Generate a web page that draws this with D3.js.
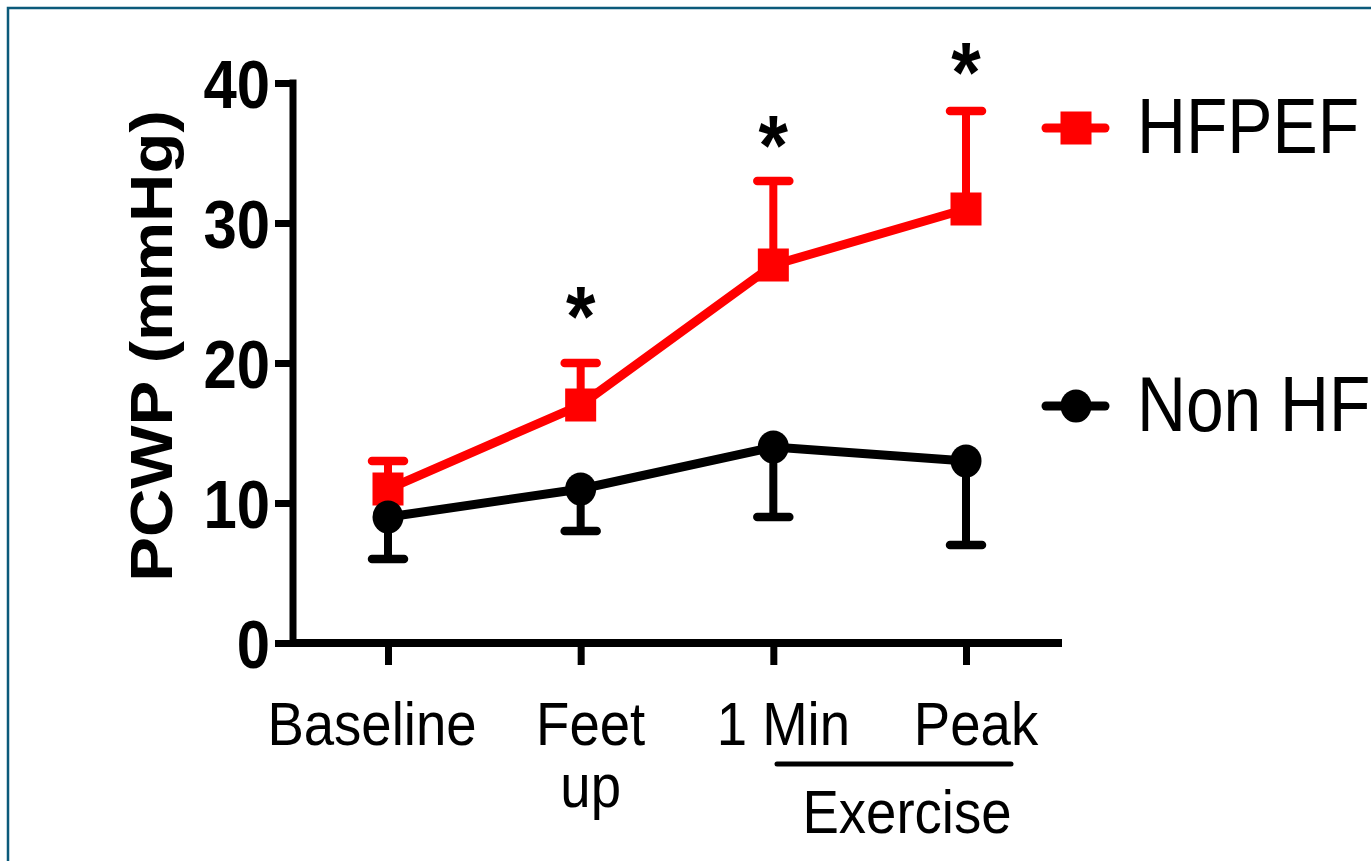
<!DOCTYPE html>
<html>
<head>
<meta charset="utf-8">
<script src="https://cdn.jsdelivr.net/npm/d3@7"></script>
<style>
  body { margin: 0; background: #fff; }
  text { font-family: "Liberation Sans", Arial, sans-serif; }
</style>
</head>
<body>
<svg id="svg" width="1371" height="861"></svg>
<script>
// Data
const categories = ["Baseline", "Feet up", "1 Min", "Peak"];
const categoryLines = [["Baseline"], ["Feet", "up"], ["1 Min"], ["Peak"]];
const hfpefMean = [11, 17, 27, 31];
const hfpefSD = [2, 3, 6, 7];
const nonHfMean = [9, 11, 14, 13];
const nonHfSD = [3, 3, 5, 6];
const sigLevel = [null, 24.1, 36.3, 41.5];
const yTicks = [0, 10, 20, 30, 40];
const legendNames = ["HFPEF", "Non HF"];

const svg = d3.select("#svg");
const SX = 0.88; // picture is stretched vertically, so text is narrowed

// frame
svg.append("rect").attr("x", 8).attr("y", 8).attr("width", 1400).attr("height", 900)
    .attr("fill", "none").attr("stroke", "#0b5a7a").attr("stroke-width", 2.5);

const x = d3.scalePoint().domain(categories).range([388, 966]);
const y = d3.scaleLinear().domain([0, 40]).range([643, 83]);

// Y axis
const yAxis = svg.append("g").attr("transform", "translate(293,0)")
    .call(d3.axisLeft(y).tickValues(yTicks).tickSize(18).tickSizeOuter(0));
yAxis.select(".domain").remove();
yAxis.selectAll(".tick line").attr("stroke", "#000").attr("stroke-width", 7);
yAxis.selectAll(".tick text")
    .attr("x", null).attr("dy", "0.36em")
    .attr("transform", `translate(-23,0) scale(${SX},1)`)
    .attr("font-size", 68).attr("font-weight", "bold").attr("fill", "#000")
    .style("font-family", "'Liberation Sans', Arial, sans-serif");
svg.append("line").attr("x1", 293).attr("x2", 293).attr("y1", y(40) - 3.5).attr("y2", y(0) + 4)
    .attr("stroke", "#000").attr("stroke-width", 7);

// X axis
const xAxis = svg.append("g").attr("transform", `translate(0,${y(0)})`)
    .call(d3.axisBottom(x).tickSize(22).tickSizeOuter(0).tickFormat(""));
xAxis.select(".domain").remove();
xAxis.selectAll(".tick line").attr("stroke", "#000").attr("stroke-width", 7);
svg.append("line").attr("x1", 290).attr("x2", 1062).attr("y1", y(0)).attr("y2", y(0))
    .attr("stroke", "#000").attr("stroke-width", 8);

// category labels
const labelShift = [-16, 10, 10, 10];
categories.forEach((c, i) => {
  categoryLines[i].forEach((ln, j) => {
    svg.append("text")
      .attr("transform", `translate(${x(c) + labelShift[i]},${745 + j * 62}) scale(${SX},1)`)
      .attr("text-anchor", "middle").attr("font-size", 62).attr("fill", "#000")
      .text(ln);
  });
});

// exercise bracket
svg.append("line").attr("x1", 777).attr("x2", 1011).attr("y1", 764).attr("y2", 764)
    .attr("stroke", "#000").attr("stroke-width", 5).attr("stroke-linecap", "round");
svg.append("text")
    .attr("transform", `translate(907,833) scale(${SX},1)`)
    .attr("text-anchor", "middle").attr("font-size", 62).attr("fill", "#000")
    .text("Exercise");

// y axis title
svg.append("text")
    .attr("transform", `translate(172,346) rotate(-90) scale(1,${SX})`)
    .attr("text-anchor", "middle").attr("font-size", 67).attr("font-weight", "bold")
    .attr("fill", "#000").text("PCWP (mmHg)");

const line = d3.line().x((d, i) => x(categories[i])).y(d => y(d));

function series(mean, sd, dir, color, marker) {
  const g = svg.append("g");
  // error bars (one-sided)
  mean.forEach((m, i) => {
    const cx = x(categories[i]);
    const end = y(m + dir * sd[i]);
    g.append("line").attr("x1", cx).attr("x2", cx).attr("y1", y(m)).attr("y2", end)
      .attr("stroke", color).attr("stroke-width", 8);
    g.append("line").attr("x1", cx - 16).attr("x2", cx + 16).attr("y1", end).attr("y2", end)
      .attr("stroke", color).attr("stroke-width", 8.5).attr("stroke-linecap", "round");
  });
  g.append("path").datum(mean).attr("d", line)
    .attr("fill", "none").attr("stroke", color).attr("stroke-width", 9);
  mean.forEach((m, i) => marker(g, x(categories[i]), y(m), color));
}

const squareMark = (g, cx, cy, color) => g.append("rect")
    .attr("x", cx - 15.5).attr("y", cy - 16.5).attr("width", 31).attr("height", 33).attr("fill", color);
const circleMark = (g, cx, cy, color) => g.append("ellipse")
    .attr("cx", cx).attr("cy", cy).attr("rx", 15.5).attr("ry", 16.5).attr("fill", color);

series(hfpefMean, hfpefSD, 1, "#ff0000", squareMark);
series(nonHfMean, nonHfSD, -1, "#000000", circleMark);

// significance asterisks
sigLevel.forEach((s, i) => {
  if (s == null) return;
  svg.append("text")
    .attr("transform", `translate(${x(categories[i])},${y(s) + 40}) scale(${SX},1)`)
    .attr("text-anchor", "middle").attr("font-size", 86).attr("font-weight", "bold")
    .attr("fill", "#000").text("*");
});

// legend
const legendY = [128, 406];
const legendColors = ["#ff0000", "#000000"];
const legendMarks = [squareMark, circleMark];
legendNames.forEach((name, i) => {
  const g = svg.append("g");
  g.append("line").attr("x1", 1046).attr("x2", 1105).attr("y1", legendY[i]).attr("y2", legendY[i])
    .attr("stroke", legendColors[i]).attr("stroke-width", 9).attr("stroke-linecap", "round");
  legendMarks[i](g, 1076, legendY[i], legendColors[i]);
  g.append("text")
    .attr("transform", `translate(1137,${legendY[i] + 25}) scale(${SX},1)`)
    .attr("font-size", 77).attr("fill", "#000").text(name);
});
</script>
</body>
</html>
